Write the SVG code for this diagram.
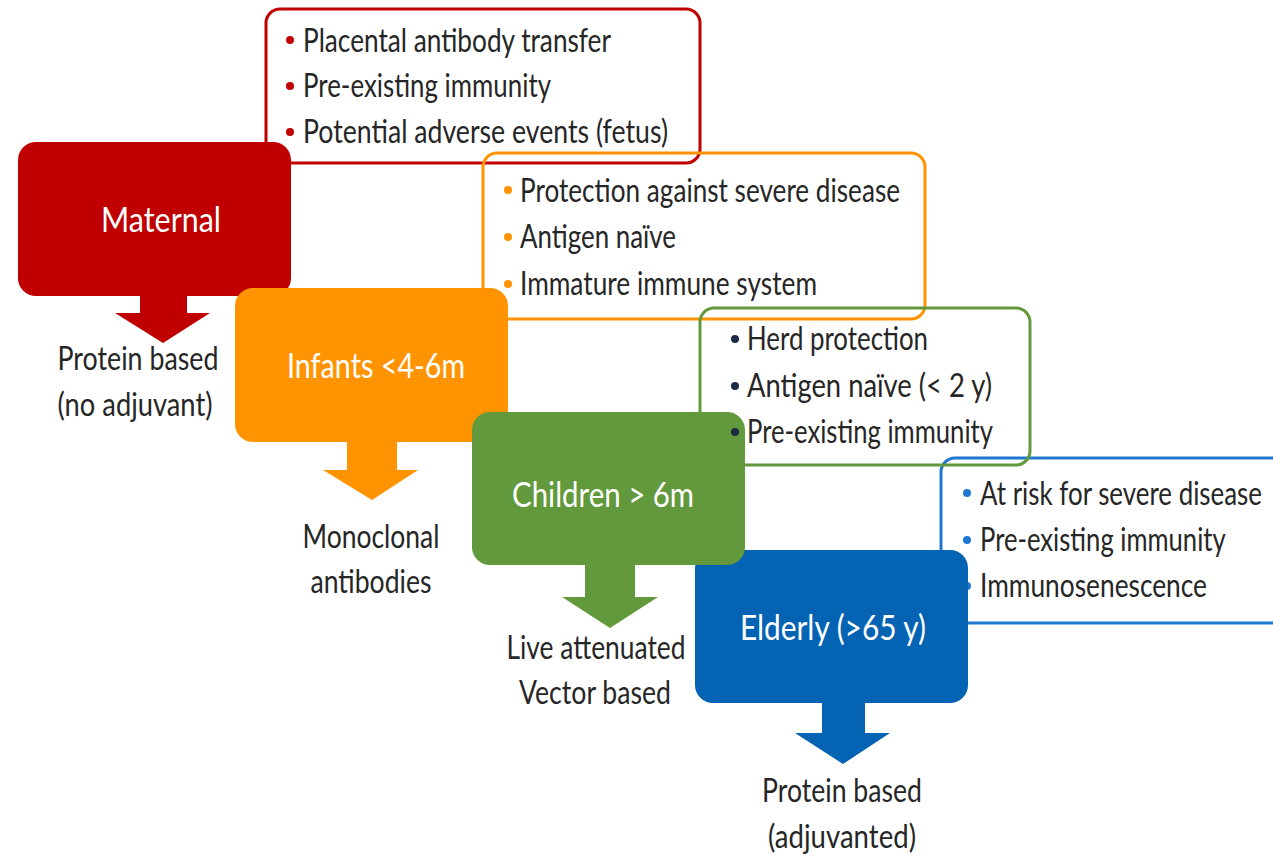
<svg xmlns="http://www.w3.org/2000/svg" width="1273" height="856" viewBox="0 0 1273 856">
<style>
text{font-family:Lato,"Open Sans","Liberation Sans",sans-serif;}
.b{font-size:32px;fill:#262626;}
.n{font-size:35px;fill:#ffffff;text-anchor:middle;}
.l{font-size:32px;fill:#262626;text-anchor:middle;}
.ol{fill:none;stroke-width:3;}
</style>
<rect width="1273" height="856" fill="#ffffff"/>
<g id="box-maternal-notes">
<rect class="ol" x="266" y="9" width="434" height="154" rx="14" stroke="#c00000"/>
</g>
<g id="node-maternal">
<rect x="18" y="142" width="273" height="154" rx="18" fill="#c00000"/>
<text class="n" x="161" y="232" textLength="120" lengthAdjust="spacingAndGlyphs">Maternal</text>
</g>
<g id="box-maternal-text">
<circle cx="290" cy="40" r="4" fill="#c00000"/><text class="b" x="303" y="52" textLength="308" lengthAdjust="spacingAndGlyphs">Placental antibody transfer</text>
<circle cx="290" cy="86" r="4" fill="#c00000"/><text class="b" x="303" y="97" textLength="248" lengthAdjust="spacingAndGlyphs">Pre-existing immunity</text>
<circle cx="290" cy="132" r="4" fill="#c00000"/><text class="b" x="303" y="143" textLength="365" lengthAdjust="spacingAndGlyphs">Potential adverse events (fetus)</text>
</g>
<g id="box-infants-notes">
<rect class="ol" x="483" y="153" width="442" height="166" rx="14" stroke="#ff9300"/>
<circle cx="508" cy="190" r="4" fill="#ff9300"/><text class="b" x="520" y="202" textLength="380" lengthAdjust="spacingAndGlyphs">Protection against severe disease</text>
<circle cx="508" cy="237" r="4" fill="#ff9300"/><text class="b" x="520" y="248" textLength="156" lengthAdjust="spacingAndGlyphs">Antigen naïve</text>
<circle cx="508" cy="284" r="4" fill="#ff9300"/><text class="b" x="520" y="295" textLength="297" lengthAdjust="spacingAndGlyphs">Immature immune system</text>
</g>
<g id="node-infants">
<rect x="235" y="288" width="273" height="154" rx="18" fill="#ff9300"/>
<text class="n" x="376" y="378" textLength="178" lengthAdjust="spacingAndGlyphs">Infants &lt;4-6m</text>
</g>
<g id="box-elderly-notes">
<rect class="ol" x="941" y="458" width="360" height="165" rx="14" stroke="#1f78cf"/>
<circle cx="967" cy="493" r="4" fill="#1f78cf"/><text class="b" transform="translate(980 505) scale(0.75 1)" x="0" y="0" textLength="376" lengthAdjust="spacingAndGlyphs">At risk for severe disease</text>
<circle cx="967" cy="540" r="4" fill="#1f78cf"/><text class="b" transform="translate(980 551) scale(0.83 1)" x="0" y="0" textLength="296" lengthAdjust="spacingAndGlyphs">Pre-existing immunity</text>
<circle cx="967" cy="586" r="4" fill="#1f78cf"/><text class="b" x="980" y="597" textLength="227" lengthAdjust="spacingAndGlyphs">Immunosenescence</text>
</g>
<g id="node-elderly">
<rect x="695" y="550" width="273" height="153" rx="18" fill="#0563b4"/>
<text class="n" x="833" y="640" textLength="186" lengthAdjust="spacingAndGlyphs">Elderly (&gt;65 y)</text>
</g>
<g id="box-children-notes">
<rect class="ol" x="700" y="308" width="330" height="157" rx="14" stroke="#62993c"/>
</g>
<g id="node-children">
<rect x="472" y="412" width="273" height="153" rx="18" fill="#62993c"/>
<text class="n" x="603" y="507" textLength="182" lengthAdjust="spacingAndGlyphs">Children &gt; 6m</text>
</g>
<g id="box-children-text">
<circle cx="735" cy="339" r="4" fill="#1c2a48"/><text class="b" x="747" y="350" textLength="181" lengthAdjust="spacingAndGlyphs">Herd protection</text>
<circle cx="735" cy="386" r="4" fill="#1c2a48"/><text class="b" x="747" y="397" textLength="245" lengthAdjust="spacingAndGlyphs">Antigen naïve (&lt; 2 y)</text>
<circle cx="735" cy="432" r="4" fill="#1c2a48"/><text class="b" x="747" y="443" textLength="246" lengthAdjust="spacingAndGlyphs">Pre-existing immunity</text>
</g>
<g id="connectors">
<polygon points="140,294 187,294 187,313 210,313 163,343 115,313 140,313" fill="#c00000"/>
<polygon points="347,440 397,440 397,470 418,470 372,500 323,470 347,470" fill="#ff9300"/>
<polygon points="585,563 635,563 635,597 658,597 610,628 562,597 585,597" fill="#62993c"/>
<polygon points="822,701 865,701 865,733 890,733 843,764 795,733 822,733" fill="#0563b4"/>
</g>
<g id="outcome-labels">
<text class="l" x="138" y="370" textLength="161" lengthAdjust="spacingAndGlyphs">Protein based</text>
<text class="l" x="135" y="416" textLength="155" lengthAdjust="spacingAndGlyphs">(no adjuvant)</text>
<text class="l" x="371" y="548" textLength="137" lengthAdjust="spacingAndGlyphs">Monoclonal</text>
<text class="l" x="371" y="593" textLength="121" lengthAdjust="spacingAndGlyphs">antibodies</text>
<text class="l" x="596" y="659" textLength="179" lengthAdjust="spacingAndGlyphs">Live attenuated</text>
<text class="l" x="595" y="704" textLength="152" lengthAdjust="spacingAndGlyphs">Vector based</text>
<text class="l" x="842" y="802" textLength="160" lengthAdjust="spacingAndGlyphs">Protein based</text>
<text class="l" x="842" y="848" textLength="148" lengthAdjust="spacingAndGlyphs">(adjuvanted)</text>
</g>
</svg>
